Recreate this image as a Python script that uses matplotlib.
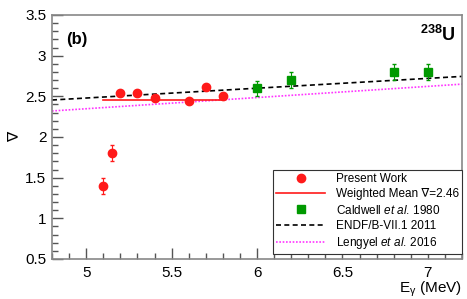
import matplotlib
matplotlib.use("Agg")
import matplotlib.pyplot as plt
from matplotlib.ticker import MultipleLocator
from matplotlib.lines import Line2D
import numpy as np

plt.rcParams['font.family'] = ['Liberation Sans', 'DejaVu Sans']
plt.rcParams['mathtext.fontset'] = 'custom'
plt.rcParams['mathtext.rm'] = 'Liberation Sans'
plt.rcParams['mathtext.it'] = 'Liberation Sans:italic'
plt.rcParams['mathtext.bf'] = 'Liberation Sans:bold'

# Present work
pw_x = [5.10, 5.15, 5.20, 5.30, 5.40, 5.60, 5.70, 5.80]
pw_y = [1.40, 1.80, 2.54, 2.54, 2.48, 2.44, 2.61, 2.50]
pw_err = [0.10, 0.10, 0.03, 0.03, 0.03, 0.03, 0.03, 0.03]

# Weighted mean
wm_value = 2.46
wm_range = [5.10, 5.80]

# Caldwell et al. 1980
cw_x = [6.0, 6.2, 6.8, 7.0]
cw_y = [2.60, 2.70, 2.80, 2.80]
cw_err = [0.09, 0.10, 0.10, 0.10]

# ENDF/B-VII.1 2011 (linear)
endf_x = [4.8, 7.2]
endf_y = [2.455, 2.745]

# Lengyel et al. 2016 (linear)
len_x = [4.8, 7.2]
len_y = [2.32, 2.65]

fig = plt.figure(figsize=(4.67, 2.99), dpi=100)
ax = fig.add_axes([52/467, 1-259/299, (462-52)/467, (259-15)/299])

endf_col = 'black'
len_col = '#ff33ff'
red = '#ff1a1a'
green = '#009900'

ax.plot(endf_x, endf_y, ls=(0, (3, 2)), color=endf_col, lw=1.2)
ax.plot(len_x, len_y, ls=(0, (1, 1)), color=len_col, lw=1.2)
ax.plot(wm_range, [wm_value, wm_value], color=red, lw=1.2)
ax.errorbar(pw_x, pw_y, yerr=pw_err, fmt='o', color=red, ms=6, elinewidth=0.8,
            capsize=1.5)
ax.errorbar(cw_x, cw_y, yerr=cw_err, fmt='s', color=green, ms=6, elinewidth=0.8,
            capsize=1.5)

ax.set_xlim(4.8, 7.2)
ax.set_ylim(0.5, 3.5)
ax.xaxis.set_major_locator(MultipleLocator(0.5))
ax.xaxis.set_minor_locator(MultipleLocator(0.1))
ax.yaxis.set_major_locator(MultipleLocator(0.5))
ax.yaxis.set_minor_locator(MultipleLocator(0.1))
fmt = lambda v, p: ('%g' % v)
ax.xaxis.set_major_formatter(fmt)
ax.yaxis.set_major_formatter(fmt)
ax.tick_params(which='both', direction='in', top=False, right=False, color='#555555')
ax.tick_params(which='major', length=8, width=1, labelsize=11)
ax.tick_params(which='minor', length=4, width=1)
ax.tick_params(axis='x', pad=5)
ax.tick_params(axis='y', pad=4)
for s in ax.spines.values():
    s.set_color('#888888')
    s.set_linewidth(1.2)

ax.set_xlabel('E$_\\mathregular{\u03b3}$ (MeV)', fontsize=11, loc='right', labelpad=0)
ax.set_ylabel('\u2207', fontsize=11, rotation=90)
ax.yaxis.set_label_coords(-0.075, 0.5)

ax.text(0.035, 0.93, '(b)', transform=ax.transAxes, fontsize=12, fontweight='bold',
        va='top', ha='left')
ax.text(0.985, 0.96, '$^{\\mathbf{238}}$U', transform=ax.transAxes, fontsize=13,
        fontweight='bold', va='top', ha='right')

handles = [
    Line2D([], [], ls='none', marker='o', color=red, ms=6),
    Line2D([], [], color=red, lw=1.2),
    Line2D([], [], ls='none', marker='s', color=green, ms=6),
    Line2D([], [], ls=(0, (3, 2)), color=endf_col, lw=1.2),
    Line2D([], [], ls=(0, (1, 1)), color=len_col, lw=1.2),
]
labels = ['Present Work', 'Weighted Mean \u2207=%.2f' % wm_value,
          'Caldwell $\\it{et\\ al.}\\,$1980', 'ENDF/B-VII.1 2011',
          'Lengyel $\\it{et\\ al.}\\,$2016']
leg = ax.legend(handles, labels,
                loc='lower right', bbox_to_anchor=(1.0, 0.02), fontsize=8.5,
                frameon=True, fancybox=False, edgecolor='#333333', framealpha=1,
                borderpad=0.25, labelspacing=0.28, handlelength=4.2, handletextpad=0.9,
                borderaxespad=0)
leg.get_frame().set_linewidth(0.8)

fig.savefig('out.png', dpi=100)
